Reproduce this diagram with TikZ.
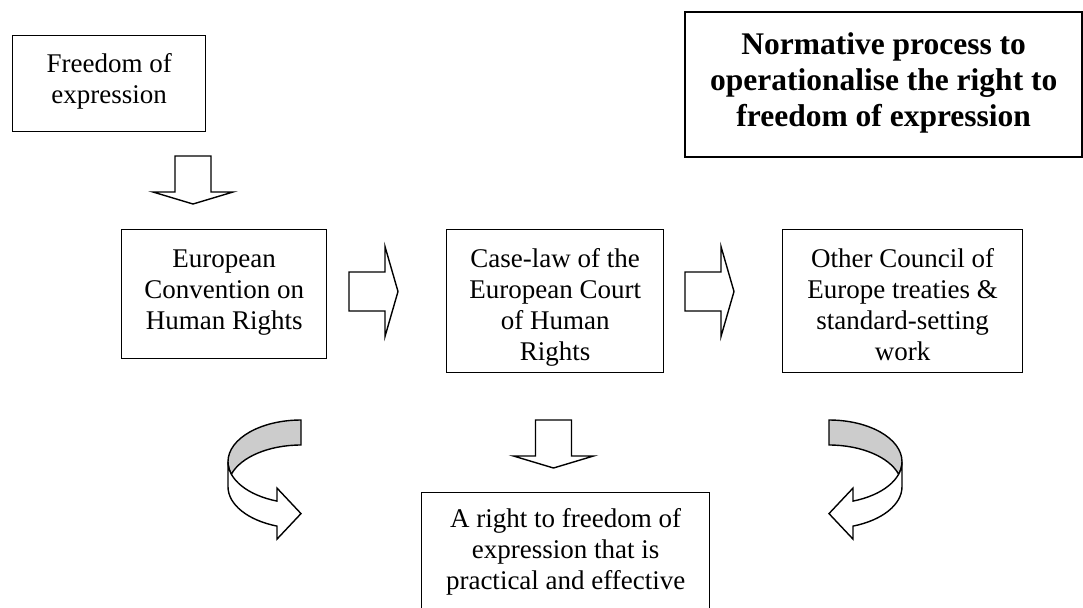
\documentclass[tikz,border=0pt]{standalone}
\usepackage{fontspec}
\setmainfont{Liberation Serif}
\definecolor{bandgray}{RGB}{204,204,204}
\newcommand\boxtxt[4]{\parbox[c][#2][t]{#1}{\centering\rule{0pt}{#3}#4\par}}
\tikzset{
  boxstyle/.style={draw, line width=0.7pt, inner sep=0pt, anchor=north west,
    font=\fontsize{13.5}{15.5}\selectfont},
  titlestyle/.style={draw, line width=1.2pt, inner sep=0pt, anchor=north west,
    font=\fontsize{15.75}{18}\selectfont\bfseries},
  blockarrow/.style={draw, fill=white, line width=0.7pt, line join=miter},
  backband/.style={draw, fill=bandgray, line width=0.7pt},
  frontband/.style={draw, fill=white, line width=0.7pt},
  rarrow/.pic={\path[blockarrow] (0,-19.5) -- (36,-19.5) -- (36,-45) -- (49,0) -- (36,45) -- (36,19.5) -- (0,19.5) -- cycle;},
  darrow/.pic={\path[blockarrow] (-18,0) -- (18,0) -- (18,36) -- (40,36) -- (0,48) -- (-40,36) -- (-18,36) -- cycle;},
}
\begin{document}
\begin{tikzpicture}[x=0.5pt,y=-0.5pt]
\useasboundingbox (0,0) rectangle (1083,607);
\clip (0,0) rectangle (1083,607);

% boxes
\node[boxstyle] (free) at (12,35) {\boxtxt{96.5pt}{48pt}{18.5pt}{Freedom of\\expression}};
\node[titlestyle] (title) at (684,11) {\boxtxt{198.5pt}{72.5pt}{21pt}{Normative process to\\operationalise the right to\\freedom of expression}};
\node[boxstyle] (echr) at (121,229) {\boxtxt{102.5pt}{64.5pt}{19pt}{European\\Convention on\\Human Rights}};
\node[boxstyle] (case) at (446,229) {\boxtxt{108.5pt}{71.5pt}{19pt}{Case-law of the\\European Court\\of Human\\Rights}};
\node[boxstyle] (other) at (782,229) {\boxtxt{120pt}{71.5pt}{19pt}{Other Council of\\Europe treaties \&\\standard-setting\\work}};
\node[boxstyle] (result) at (421,492) {\boxtxt{144pt}{70pt}{17.5pt}{A right to freedom of\\expression that is\\practical and effective}};

% block arrows
\pic at (193,156) {darrow};
\pic at (349,291.5) {rarrow};
\pic at (685,291.5) {rarrow};
\pic at (553.5,420) {darrow};

% left curved arrow
\path[backband] (228,461.7) arc[start angle=180, end angle=270, x radius=73, y radius=41.7]
  -- (301,445) arc[start angle=270, end angle=197.44, x radius=73, y radius=41.7]
  arc[start angle=162.56, end angle=180, x radius=73, y radius=41.7] -- cycle;
\path[frontband] (228,461.7) arc[start angle=180, end angle=109.2, x radius=73, y radius=41.7]
  -- ++(0,-13) -- (301,513.6) -- (277,539.1) -- (277,526.1)
  arc[start angle=109.2, end angle=180, x radius=73, y radius=41.7] -- cycle;

% right curved arrow
\path[backband] (902,461.7) arc[start angle=0, end angle=-90, x radius=73, y radius=41.7]
  -- (829,445) arc[start angle=-90, end angle=-17.44, x radius=73, y radius=41.7]
  arc[start angle=17.44, end angle=0, x radius=73, y radius=41.7] -- cycle;
\path[frontband] (902,461.7) arc[start angle=0, end angle=70.8, x radius=73, y radius=41.7]
  -- ++(0,-13) -- (829,513.6) -- (853,539.1) -- (853,526.1)
  arc[start angle=70.8, end angle=0, x radius=73, y radius=41.7] -- cycle;
\end{tikzpicture}
\end{document}
